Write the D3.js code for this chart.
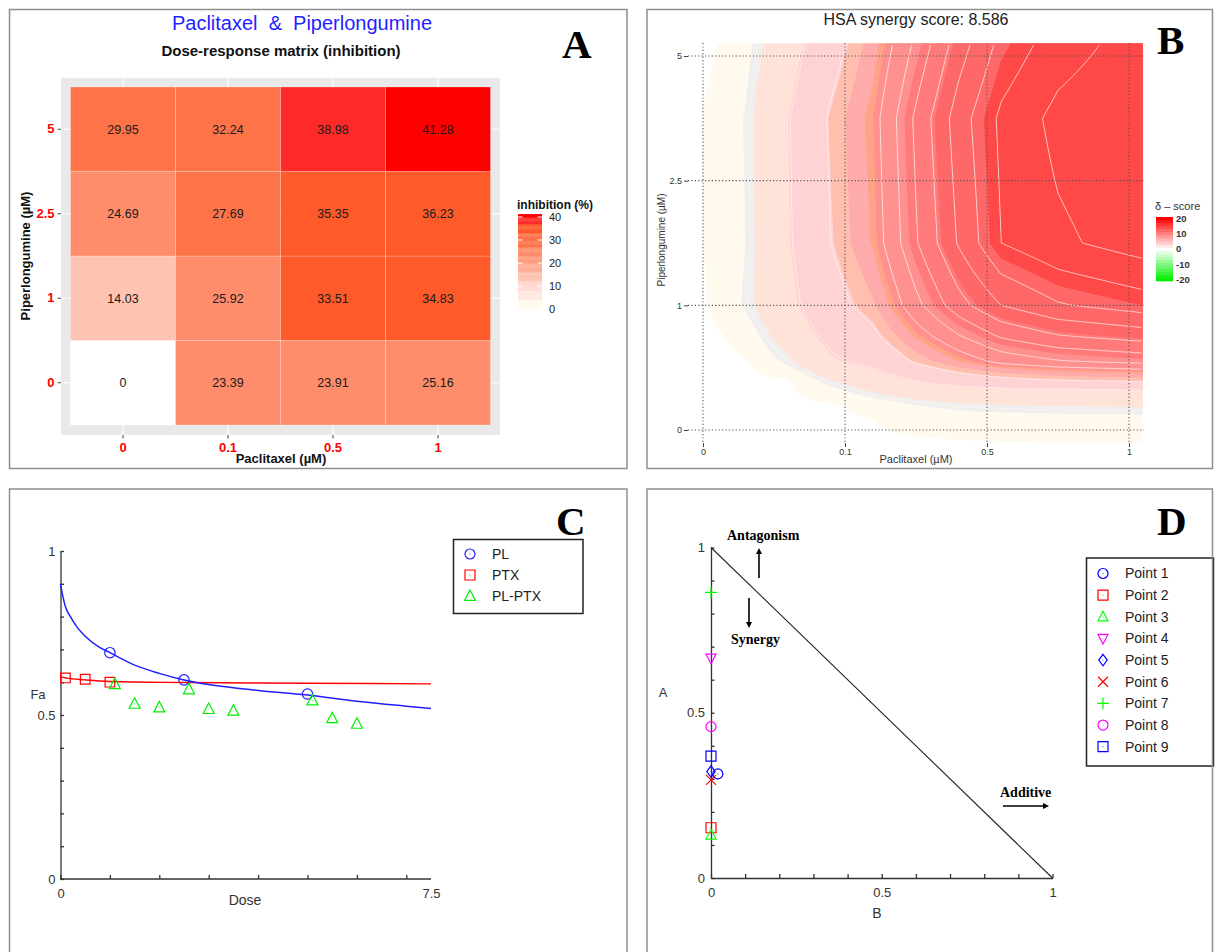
<!DOCTYPE html>
<head>
  <meta charset="utf-8">
  <title>Paclitaxel &amp; Piperlongumine</title>
  <script src="https://d3js.org/d3.v7.min.js"></script>
  <style>
  body {margin: 0; background: white;}
  #fig text {font-family: "Liberation Sans", Arial, sans-serif;}
  .border {fill: none; stroke: #8f8f8f; stroke-width: 1.5px;}
  #fig text.letter {font-family: "Liberation Serif", "Times New Roman", serif; font-weight: bold; font-size: 41px;}
  #fig text.note {font-family: "Liberation Serif", "Times New Roman", serif; font-weight: bold; font-size: 14px;}
  .axisC path, .axisC line {stroke: #333; stroke-width: 1.3px;}
  .axisC text {fill: #333; font-size: 13px;}
  </style>
</head>
<body>
  <svg id="fig" width="1218" height="952"></svg>
  <script>
  // ---- panel A : dose-response matrix ----
  var ptxDoses = ["0", "0.1", "0.5", "1"];
  var plDoses = ["0", "1", "2.5", "5"];
  // rows follow plDoses, columns follow ptxDoses
  var inhibition = [
    [0, 23.39, 23.91, 25.16],
    [14.03, 25.92, 33.51, 34.83],
    [24.69, 27.69, 35.35, 36.23],
    [29.95, 32.24, 38.98, 41.28]
  ];
  var inhibTicks = [0, 10, 20, 30, 40];

  // ---- panel B : HSA synergy surface ----
  var hsaScore = 8.586;
  // delta score; columns = position on the PTX dose index,
  // rows = position on the PL dose index
  var deltaU = [-0.1, 0, 0.3, 0.6, 0.9, 1.2, 1.5, 1.8, 2.1, 2.5, 3.1];
  var deltaV = [-0.1, 0.1, 0.2, 0.3, 0.4, 0.55, 0.75, 1.0, 1.5, 2.5, 3.1];
  var deltaGrid = [
    [-0.1, -0.1, -0.1, 0.0, 0.05, 0.08, 0.12, 0.15, 0.18, 0.2, 0.21],
    [-0.1, -0.1, -0.05, 0.0, 0.1, 0.22, 0.45, 0.63, 0.73, 0.79, 0.83],
    [-0.1, -0.1, -0.05, 0.02, 0.12, 0.45, 1.0, 1.28, 1.38, 1.46, 1.52],
    [-0.1, -0.1, -0.05, 0.1, 0.6, 1.4, 1.9, 2.1, 2.3, 2.4, 2.5],
    [-0.1, -0.1, 0.0, 0.15, 1.4, 2.2, 3.2, 4.0, 4.5, 4.9, 5.2],
    [-0.2, -0.1, 0.15, 1.2, 2.8, 3.6, 5.1, 6.3, 7.3, 7.9, 8.3],
    [-0.2, -0.1, 0.5, 2.0, 3.5, 4.6, 6.4, 7.9, 9.1, 9.9, 10.4],
    [-0.2, 0.1, 1.1, 2.6, 4.3, 5.5, 7.7, 9.6, 11.0, 11.9, 12.5],
    [-0.2, 0.2, 1.0, 2.9, 4.9, 6.4, 8.9, 11.1, 13.0, 13.8, 14.5],
    [-0.2, 0.25, 1.05, 3.0, 5.1, 6.6, 9.2, 11.5, 13.2, 14.3, 15.0],
    [-0.4, -0.1, 0.75, 2.3, 4.3, 6.0, 8.2, 10.5, 12.3, 13.5, 14.5]
  ];
  var bandLevels = [0.2, 1.0, 1.4, 3.0, 5.0, 5.6, 6.3, 6.6, 8.5, 10.2, 12.5];
  var lineLevels = [1.2, 3.1, 4.9, 7, 8, 9, 10, 11, 12, 13, 14];
  var deltaTicks = [20, 10, 0, -10, -20];

  // ---- panel C : dose-effect curves ----
  var plDose = [1, 2.5, 5];
  var plFa = [0.69, 0.607, 0.564];
  var ptxDose = [0.1, 0.5, 1];
  var ptxFa = [0.613, 0.609, 0.600];
  var comboDose = [1.1, 1.5, 2, 2.6, 3, 3.5, 5.1, 5.5, 6];
  var comboFa = [0.594, 0.534, 0.523, 0.578, 0.518, 0.513, 0.544, 0.49, 0.473];
  var plCurveDose = [0, 0.05, 0.1, 0.2, 0.35, 0.5, 0.75, 1, 1.5, 2, 2.5, 3, 3.5, 4, 5, 6, 7, 7.5];
  var plCurveFa = [0.90, 0.86, 0.83, 0.80, 0.765, 0.74, 0.71, 0.69, 0.652, 0.627, 0.607, 0.593, 0.583, 0.575, 0.561, 0.542, 0.527, 0.52];
  var ptxCurveDose = [0, 0.1, 0.5, 1, 2.5, 5, 7.5];
  var ptxCurveFa = [0.617, 0.613, 0.607, 0.602, 0.599, 0.597, 0.595];
  var curveNames = ["PL", "PTX", "PL-PTX"];
  var doseLabels = [0, 7.5];

  // ---- panel D : normalized isobologram ----
  var pointNames = ["Point 1", "Point 2", "Point 3", "Point 4", "Point 5", "Point 6", "Point 7", "Point 8", "Point 9"];
  var pointB = [0.02, 0, 0, 0, 0, 0, 0, 0, 0];
  var pointA = [0.315, 0.152, 0.13, 0.665, 0.322, 0.297, 0.864, 0.458, 0.369];

  // styles
  var inhibBreaks = [0.01, 4, 8, 12, 16, 20, 23, 27, 33, 37, 40];
  var inhibColors = ["#ffffff", "#fffaee", "#ffe9e1", "#ffd9d1", "#ffc3b1", "#ffae96", "#ff9b7d", "#ff8d6b", "#ff7349", "#ff5a29", "#fe2a2a", "#ff0000"];
  var bandColors = ["#fff9ee", "#efefef", "#ffe3d8", "#ffd3d3", "#ffbeae", "#ffabab", "#ffa388", "#ff9090", "#ff7b7b", "#ff6868", "#ff4848"];
  var pointMarkers = ["o", "s", "^", "v", "d", "x", "+", "o", "s"];
  var pointColors = ["#0000ff", "#ff0000", "#00ff00", "#ff00ff", "#0000ff", "#ff0000", "#00ff00", "#ff00ff", "#0000ff"];

  var svg = d3.select("#fig");

  function markerPath(type, s) {
    if (type == "o") return "M" + s + ",0A" + s + "," + s + " 0 1,1 " + (-s) + ",0A" + s + "," + s + " 0 1,1 " + s + ",0Z";
    if (type == "s") return "M" + (-s) + "," + (-s) + "H" + s + "V" + s + "H" + (-s) + "Z";
    if (type == "^") return "M0," + (-1.1 * s) + "L" + s + "," + (0.8 * s) + "L" + (-s) + "," + (0.8 * s) + "Z";
    if (type == "v") return "M0," + (1.1 * s) + "L" + s + "," + (-0.8 * s) + "L" + (-s) + "," + (-0.8 * s) + "Z";
    if (type == "d") return "M0," + (-1.15 * s) + "L" + (0.85 * s) + ",0L0," + (1.15 * s) + "L" + (-0.85 * s) + ",0Z";
    if (type == "x") return "M" + (-s) + "," + (-s) + "L" + s + "," + s + "M" + (-s) + "," + s + "L" + s + "," + (-s);
    return "M" + (-1.2 * s) + ",0H" + (1.2 * s) + "M0," + (-1.2 * s) + "V" + (1.2 * s);
  }

  function drawMarker(g, type, color, x, y, s) {
    g.append("path")
      .attr("d", markerPath(type, s))
      .attr("transform", "translate(" + x + "," + y + ")")
      .attr("fill", "none")
      .attr("stroke", color)
      .attr("stroke-width", 1.2);
    if (type != "x" && type != "+") {
      g.append("rect").attr("x", x - 0.5).attr("y", y - 0.5).attr("width", 1).attr("height", 1)
        .attr("fill", color).attr("opacity", 0.7);
    }
  }

  function showPanelA() {
    var g = svg.append("g");
    var x = d3.scaleBand().domain(ptxDoses).range([70.5, 490.5]);
    var y = d3.scaleBand().domain(plDoses.slice().reverse()).range([87, 425]);
    var color = d3.scaleThreshold().domain(inhibBreaks).range(inhibColors);

    g.append("text").attr("x", 302).attr("y", 30).attr("text-anchor", "middle")
      .attr("fill", "#1f1fff").style("font-size", "20px").text("Paclitaxel\u00a0 &\u00a0 Piperlongumine");
    g.append("text").attr("x", 281).attr("y", 56).attr("text-anchor", "middle")
      .style("font-size", "15px").style("font-weight", "bold").attr("fill", "#111")
      .text("Dose-response matrix (inhibition)");

    g.append("rect").attr("x", 61).attr("y", 78).attr("width", 439).attr("height", 357).attr("fill", "#e9e9e9");
    g.selectAll("line.vgrid").data(ptxDoses).enter().append("line")
      .attr("x1", function(d) { return x(d) + x.bandwidth() / 2; })
      .attr("x2", function(d) { return x(d) + x.bandwidth() / 2; })
      .attr("y1", 78).attr("y2", 435).attr("stroke", "white").attr("stroke-width", 1.2);
    g.selectAll("line.hgrid").data(plDoses).enter().append("line")
      .attr("y1", function(d) { return y(d) + y.bandwidth() / 2; })
      .attr("y2", function(d) { return y(d) + y.bandwidth() / 2; })
      .attr("x1", 61).attr("x2", 500).attr("stroke", "white").attr("stroke-width", 1.2);

    var cells = [];
    plDoses.forEach(function(p, i) {
      ptxDoses.forEach(function(q, j) { cells.push({pl: p, ptx: q, value: inhibition[i][j]}); });
    });
    g.selectAll("rect.tile").data(cells).enter().append("rect")
      .attr("x", function(d) { return x(d.ptx); })
      .attr("y", function(d) { return y(d.pl); })
      .attr("width", x.bandwidth()).attr("height", y.bandwidth())
      .attr("fill", function(d) { return color(d.value); })
      .attr("stroke", "white").attr("stroke-opacity", 0.3).attr("stroke-width", 0.8);
    g.selectAll("text.val").data(cells).enter().append("text")
      .attr("x", function(d) { return x(d.ptx) + x.bandwidth() / 2; })
      .attr("y", function(d) { return y(d.pl) + y.bandwidth() / 2; })
      .attr("dy", "0.35em").attr("text-anchor", "middle")
      .style("font-size", "12.5px").attr("fill", "#1a1a1a")
      .text(function(d) { return d.value; });

    var ax = g.append("g").attr("transform", "translate(61,0)").call(d3.axisLeft(y).tickSize(3.5).tickPadding(3));
    var bx = g.append("g").attr("transform", "translate(0,435)").call(d3.axisBottom(x).tickSize(3.5).tickPadding(4));
    [ax, bx].forEach(function(a) {
      a.select(".domain").remove();
      a.selectAll("line").attr("stroke", "#444");
      a.selectAll("text").attr("fill", "#ff0000").style("font-size", "13px").style("font-weight", "bold")
        .style("font-family", "Liberation Sans, Arial, sans-serif");
    });

    g.append("text").attr("x", 281).attr("y", 463).attr("text-anchor", "middle")
      .style("font-size", "13px").style("font-weight", "bold").attr("fill", "#111").text("Paclitaxel (µM)");
    g.append("text").attr("transform", "translate(30,256) rotate(-90)").attr("text-anchor", "middle")
      .style("font-size", "13px").style("font-weight", "bold").attr("fill", "#111").text("Piperlongumine (µM)");

    // colour bar
    var ly = d3.scaleLinear().domain([0, 40]).range([309, 217]);
    var top = d3.max(inhibition, function(r) { return d3.max(r); });
    var steps = d3.range(0, top, 0.5);
    g.selectAll("rect.leg").data(steps).enter().append("rect")
      .attr("x", 518).attr("width", 24)
      .attr("y", function(d) { return ly(Math.min(d + 0.5, top)); })
      .attr("height", function(d) { return ly(d) - ly(Math.min(d + 0.5, top)) + 0.3; })
      .attr("fill", function(d) { return color(Math.max(d, 0.5)); });
    g.selectAll("line.legtick").data(inhibTicks).enter().append("path")
      .attr("d", function(d) { return "M518," + ly(d) + "h4.5M537.5," + ly(d) + "h4.5"; })
      .attr("stroke", "white").attr("stroke-width", 1);
    g.selectAll("text.legval").data(inhibTicks).enter().append("text")
      .attr("x", 549).attr("y", function(d) { return ly(d); }).attr("dy", "0.35em")
      .style("font-size", "11px").attr("fill", "#222").text(function(d) { return d; });
    g.append("text").attr("x", 517).attr("y", 209).style("font-size", "12px").style("font-weight", "bold")
      .attr("fill", "#111").text("inhibition (%)");
  }

  function deltaAt(u, v) {
    var i = Math.max(0, Math.min(d3.bisectRight(deltaU, u) - 1, deltaU.length - 2));
    var j = Math.max(0, Math.min(d3.bisectRight(deltaV, v) - 1, deltaV.length - 2));
    var tu = Math.max(0, Math.min(1, (u - deltaU[i]) / (deltaU[i + 1] - deltaU[i])));
    var tv = Math.max(0, Math.min(1, (v - deltaV[j]) / (deltaV[j + 1] - deltaV[j])));
    var a = deltaGrid[j][i] * (1 - tu) + deltaGrid[j][i + 1] * tu;
    var b = deltaGrid[j + 1][i] * (1 - tu) + deltaGrid[j + 1][i + 1] * tu;
    return a * (1 - tv) + b * tv;
  }

  function showPanelB() {
    var g = svg.append("g");
    var x = d3.scaleLinear().domain([0, 3]).range([703, 1129]);
    var y = d3.scaleLinear().domain([0, 3]).range([430, 56]);
    var x0 = x(-0.1), y0 = y(3.1);
    var nx = Math.round(x(3.1) - x0), ny = Math.round(y(-0.1) - y0);
    var values = new Array(nx * ny);
    for (var j = 0; j < ny; j++) {
      for (var i = 0; i < nx; i++) {
        values[j * nx + i] = deltaAt(x.invert(x0 + i + 0.5), y.invert(y0 + j + 0.5));
      }
    }
    var path = d3.geoPath(d3.geoIdentity().translate([x0, y0]));
    var bands = d3.contours().size([nx, ny]).thresholds(bandLevels)(values);
    g.selectAll("path.band").data(bands).enter().append("path")
      .attr("d", path)
      .attr("fill", function(d, k) { return bandColors[k]; });

    g.append("clipPath").attr("id", "surfClip").append("rect")
      .attr("x", x0 + 1.5).attr("y", y0 + 1.5).attr("width", nx - 3).attr("height", ny - 3);
    var lines = d3.contours().size([nx, ny]).thresholds(lineLevels)(values);
    g.append("g").attr("clip-path", "url(#surfClip)")
      .selectAll("path.iso").data(lines).enter().append("path")
      .attr("d", path).attr("fill", "none")
      .attr("stroke", "#fff3ec").attr("stroke-opacity", 0.85).attr("stroke-width", 0.9);

    // dotted grid
    var idx = [0, 1, 2, 3];
    g.selectAll("line.vdot").data(idx).enter().append("line")
      .attr("x1", function(d) { return x(d); }).attr("x2", function(d) { return x(d); })
      .attr("y1", 43).attr("y2", 443)
      .attr("stroke", "#555").attr("stroke-width", 1.1).attr("stroke-dasharray", "1.2,2.2");
    g.selectAll("line.hdot").data(idx).enter().append("line")
      .attr("y1", function(d) { return y(d); }).attr("y2", function(d) { return y(d); })
      .attr("x1", 688).attr("x2", 1144)
      .attr("stroke", "#555").attr("stroke-width", 1.1).attr("stroke-dasharray", "1.2,2.2");

    var ay = g.append("g").attr("transform", "translate(688,0)")
      .call(d3.axisLeft(y).tickValues(idx).tickFormat(function(d) { return plDoses[d]; }).tickSize(4).tickPadding(2));
    var axx = g.append("g").attr("transform", "translate(0,443)")
      .call(d3.axisBottom(x).tickValues(idx).tickFormat(function(d) { return ptxDoses[d]; }).tickSize(4).tickPadding(2));
    [ay, axx].forEach(function(a) {
      a.select(".domain").remove();
      a.selectAll("line").attr("stroke", "#444");
      a.selectAll("text").attr("fill", "#333").style("font-size", "9px")
        .style("font-family", "Liberation Sans, Arial, sans-serif");
    });

    g.append("text").attr("x", 916).attr("y", 25).attr("text-anchor", "middle")
      .style("font-size", "16px").attr("fill", "#222").text("HSA synergy score: " + hsaScore);
    g.append("text").attr("x", 916).attr("y", 463).attr("text-anchor", "middle")
      .style("font-size", "11px").attr("fill", "#333").text("Paclitaxel (µM)");
    g.append("text").attr("transform", "translate(665,240) rotate(-90)").attr("text-anchor", "middle")
      .style("font-size", "10px").attr("fill", "#333").text("Piperlongumine (µM)");

    // delta legend
    var ly = d3.scaleLinear().domain([-20, 20]).range([279.5, 218.5]);
    var col = d3.scaleLinear().domain([-20, 0, 20]).range(["#00f000", "#ffffff", "#ff0000"]);
    var steps = d3.range(-21, 21, 2);
    g.selectAll("rect.dleg").data(steps).enter().append("rect")
      .attr("x", 1156).attr("width", 17)
      .attr("y", function(d) { return ly(d + 2); })
      .attr("height", function(d) { return ly(d) - ly(d + 2) + 0.3; })
      .attr("fill", function(d) { return col(Math.max(-20, Math.min(20, d + 1))); });
    g.selectAll("text.dval").data(deltaTicks).enter().append("text")
      .attr("x", 1176).attr("y", function(d) { return ly(d); }).attr("dy", "0.35em")
      .style("font-size", "9.5px").style("font-weight", "bold").attr("fill", "#333")
      .text(function(d) { return d; });
    g.append("text").attr("x", 1155).attr("y", 210).style("font-size", "11px").attr("fill", "#333").text("δ – score");
  }

  function showPanelC() {
    var g = svg.append("g");
    var x = d3.scaleLinear().domain([0, 7.5]).range([60.5, 431]);
    var y = d3.scaleLinear().domain([0, 1]).range([879, 551]);

    g.append("g").attr("class", "axisC").attr("transform", "translate(60.5,0)")
      .call(d3.axisLeft(y).tickValues(d3.range(0, 1.001, 0.1)).tickSizeInner(-3.5).tickSizeOuter(0).tickPadding(5)
        .tickFormat(function(d) { return Math.abs(d * 2 - Math.round(d * 2)) < 1e-6 ? d3.format("")(+d.toFixed(1)) : ""; }));
    var axx = g.append("g").attr("class", "axisC").attr("transform", "translate(0,879)")
      .call(d3.axisBottom(x).tickValues(d3.range(0, 8, 1)).tickSizeInner(-4).tickSizeOuter(0).tickFormat(""));
    axx.select(".domain").attr("d", "M60.5,0H431");
    g.append("g").attr("class", "axisC").attr("transform", "translate(0,879)")
      .call(d3.axisBottom(x).tickValues(doseLabels).tickFormat(d3.format("")).tickSize(0).tickPadding(10))
      .select(".domain").remove();
    g.selectAll(".axisC text").style("font-family", "Liberation Sans, Arial, sans-serif");

    g.append("text").attr("x", 245).attr("y", 905).attr("text-anchor", "middle")
      .style("font-size", "14px").attr("fill", "#333").text("Dose");
    g.append("text").attr("x", 38).attr("y", 694).attr("dy", "0.35em").attr("text-anchor", "middle")
      .style("font-size", "13px").attr("fill", "#333").text("Fa");

    var line = d3.line().curve(d3.curveMonotoneX)
      .x(function(d) { return x(d[0]); }).y(function(d) { return y(d[1]); });
    g.append("path").datum(d3.zip(ptxCurveDose, ptxCurveFa)).attr("d", line)
      .attr("fill", "none").attr("stroke", "#ff0000").attr("stroke-width", 1.4);
    g.append("path").datum(d3.zip(plCurveDose, plCurveFa)).attr("d", line)
      .attr("fill", "none").attr("stroke", "#1f1fff").attr("stroke-width", 1.5);

    plDose.forEach(function(d, i) { drawMarker(g, "o", "#1f1fff", x(d), y(plFa[i]), 5.2); });
    ptxDose.forEach(function(d, i) { drawMarker(g, "s", "#ff0000", x(d), y(ptxFa[i]), 4.8); });
    comboDose.forEach(function(d, i) { drawMarker(g, "^", "#00ee00", x(d), y(comboFa[i]), 5.5); });

    // legend
    g.append("rect").attr("x", 453.5).attr("y", 539.5).attr("width", 129.5).attr("height", 74)
      .attr("fill", "white").attr("stroke", "#222").attr("stroke-width", 1.5);
    var types = ["o", "s", "^"], cols = ["#1f1fff", "#ff0000", "#00ee00"];
    curveNames.forEach(function(n, i) {
      var yy = 554 + i * 21;
      drawMarker(g, types[i], cols[i], 470, yy, i == 2 ? 5.5 : 5);
      g.append("text").attr("x", 492).attr("y", yy).attr("dy", "0.35em")
        .style("font-size", "14px").attr("fill", "#222").text(n);
    });
  }

  function arrow(g, x1, y1, x2, y2) {
    var a = Math.atan2(y2 - y1, x2 - x1), h = 6, w = 3;
    g.append("line").attr("x1", x1).attr("y1", y1).attr("x2", x2 - Math.cos(a) * h * 0.8).attr("y2", y2 - Math.sin(a) * h * 0.8)
      .attr("stroke", "black").attr("stroke-width", 1.6);
    var bx = x2 - Math.cos(a) * h, by = y2 - Math.sin(a) * h;
    g.append("path").attr("d", "M" + x2 + "," + y2 + "L" + (bx - Math.sin(a) * w) + "," + (by + Math.cos(a) * w)
      + "L" + (bx + Math.sin(a) * w) + "," + (by - Math.cos(a) * w) + "Z").attr("fill", "black");
  }

  function showPanelD() {
    var g = svg.append("g");
    var x = d3.scaleLinear().domain([0, 1]).range([711, 1052.5]);
    var y = d3.scaleLinear().domain([0, 1]).range([878, 547.5]);
    var fmt = function(d) { return Math.abs(d * 2 - Math.round(d * 2)) < 1e-6 ? d3.format("")(+d.toFixed(1)) : ""; };

    g.append("g").attr("class", "axisC").attr("transform", "translate(711,0)")
      .call(d3.axisLeft(y).tickValues(d3.range(0, 1.001, 0.1)).tickSizeInner(-3.5).tickSizeOuter(0).tickPadding(6).tickFormat(fmt));
    g.append("g").attr("class", "axisC").attr("transform", "translate(0,878)")
      .call(d3.axisBottom(x).tickValues(d3.range(0, 1.001, 0.1)).tickSizeInner(-4).tickSizeOuter(0).tickPadding(10).tickFormat(fmt));
    g.selectAll(".axisC text").style("font-family", "Liberation Sans, Arial, sans-serif");

    g.append("line").attr("x1", x(0)).attr("y1", y(1)).attr("x2", x(1)).attr("y2", y(0))
      .attr("stroke", "#222").attr("stroke-width", 1.1);

    g.append("text").attr("x", 877).attr("y", 918).attr("text-anchor", "middle")
      .style("font-size", "14px").attr("fill", "#333").text("B");
    g.append("text").attr("x", 663).attr("y", 692).attr("dy", "0.35em").attr("text-anchor", "middle")
      .style("font-size", "13px").attr("fill", "#333").text("A");

    g.append("text").attr("class", "note").attr("x", 727).attr("y", 540).text("Antagonism");
    arrow(g, 759, 578, 759, 548);
    g.append("text").attr("class", "note").attr("x", 731).attr("y", 644).text("Synergy");
    arrow(g, 749, 598, 749, 628);
    g.append("text").attr("class", "note").attr("x", 1000).attr("y", 797).text("Additive");
    arrow(g, 1003, 806, 1049, 806);

    pointNames.forEach(function(n, i) {
      drawMarker(g, pointMarkers[i], pointColors[i], x(pointB[i]), y(pointA[i]), 5);
    });

    g.append("rect").attr("x", 1086.5).attr("y", 558).attr("width", 127).attr("height", 208)
      .attr("fill", "white").attr("stroke", "#222").attr("stroke-width", 1.5);
    pointNames.forEach(function(n, i) {
      var yy = 573.5 + i * 21.65;
      drawMarker(g, pointMarkers[i], pointColors[i], 1103, yy, 5);
      g.append("text").attr("x", 1125).attr("y", yy).attr("dy", "0.35em")
        .style("font-size", "14px").attr("fill", "#222").text(n);
    });
  }

  function showFrames() {
    var boxes = [[9.5, 9.5, 617.5, 459], [647, 9.5, 565.5, 459], [9.5, 489, 617.5, 480], [647, 489, 565.5, 480]];
    svg.selectAll("rect.border").data(boxes).enter().append("rect").attr("class", "border")
      .attr("x", function(d) { return d[0]; }).attr("y", function(d) { return d[1]; })
      .attr("width", function(d) { return d[2]; }).attr("height", function(d) { return d[3]; });
    var letters = [["A", 562, 58], ["B", 1157, 54], ["C", 556, 535], ["D", 1157, 535]];
    svg.selectAll("text.letter").data(letters).enter().append("text").attr("class", "letter")
      .attr("x", function(d) { return d[1]; }).attr("y", function(d) { return d[2]; })
      .text(function(d) { return d[0]; });
  }

  showPanelB();
  showPanelA();
  showPanelC();
  showPanelD();
  showFrames();
  </script>
</body>
